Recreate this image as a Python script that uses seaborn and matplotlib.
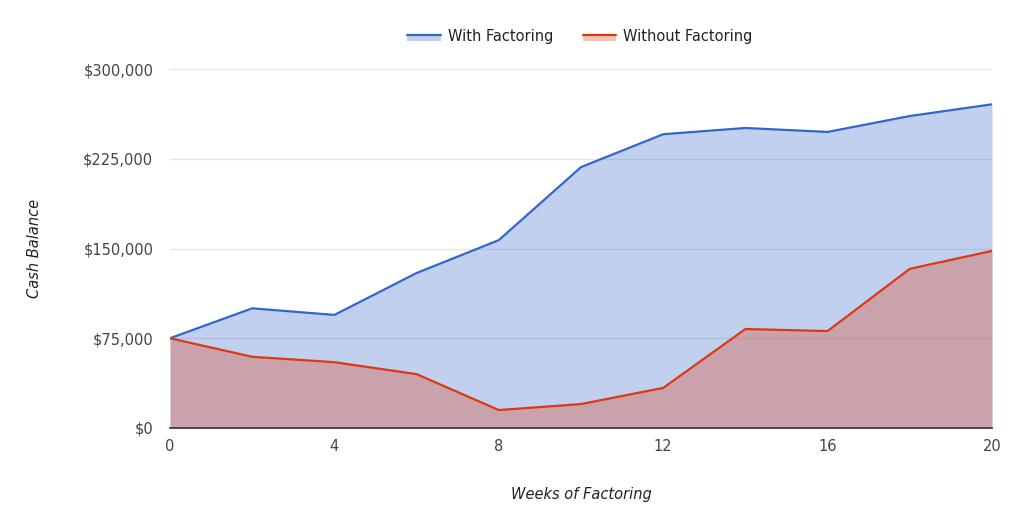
import matplotlib
matplotlib.use("Agg")
import matplotlib.pyplot as plt
import matplotlib.ticker as mticker
from matplotlib.patches import Rectangle
from matplotlib.lines import Line2D
from matplotlib.legend_handler import HandlerBase
import seaborn as sns
import pandas as pd

weeks = [0, 2, 4, 6, 8, 10, 12, 14, 16, 18, 20]
with_factoring = [75000, 100000, 94500, 129500, 157000, 218000, 245500, 250700, 247400, 260700, 270500]
without_factoring = [75000, 59500, 55000, 45000, 15000, 20000, 33500, 82700, 81000, 133000, 148000]
y_ticks = [0, 75000, 150000, 225000, 300000]
x_ticks = [0, 4, 8, 12, 16, 20]

df = pd.DataFrame({"week": weeks, "With Factoring": with_factoring,
                   "Without Factoring": without_factoring})
long = df.melt(id_vars="week", var_name="series", value_name="cash")

sns.set_theme(style="white")
plt.rcParams['font.family'] = ['DejaVu Sans']

blue = "#3366CC"
red = "#DC3912"
text_c = "#444444"


class AreaHandler(HandlerBase):
    # line on top, light band under it (like the google chart legend)
    def create_artists(self, legend, orig_handle, xdescent, ydescent, width, height, fontsize, trans):
        c = orig_handle.get_color()
        mid = height * 0.55
        rect = Rectangle((-xdescent, -ydescent), width, mid, facecolor=c, alpha=0.3, lw=0, transform=trans)
        line = Line2D([-xdescent, -xdescent + width], [mid, mid], color=c, lw=1.6, transform=trans)
        return [rect, line]


fig = plt.figure(figsize=(10.31, 5.22), dpi=100)
ax = fig.add_axes([170 / 1031, 1 - 428 / 522, 822 / 1031, 359 / 522])

ax.fill_between(df["week"], df["With Factoring"], color=blue, alpha=0.3, lw=0, zorder=2)
ax.fill_between(df["week"], df["Without Factoring"], color=red, alpha=0.3, lw=0, zorder=2)

sns.lineplot(data=long, x="week", y="cash", hue="series",
             palette={"With Factoring": blue, "Without Factoring": red},
             linewidth=1.6, ax=ax, legend=False, zorder=3)

ax.set_xlim(0, 20)
ax.set_ylim(0, 300000)
ax.set_xticks(x_ticks)
ax.set_yticks(y_ticks)
ax.yaxis.set_major_formatter(mticker.FuncFormatter(lambda v, p: f"${v:,.0f}"))
ax.grid(axis="y", color="#e6e6e6", lw=1, zorder=0)
ax.grid(axis="x", visible=False)
for s in ["top", "right", "left"]:
    ax.spines[s].set_visible(False)
ax.spines["bottom"].set_color("#333333")
ax.spines["bottom"].set_linewidth(1.2)
ax.spines["bottom"].set_zorder(4)
ax.tick_params(axis="both", length=0, labelsize=10.5, colors=text_c)
ax.tick_params(axis="y", pad=12)
ax.tick_params(axis="x", pad=8)

ax.set_xlabel("Weeks of Factoring", fontsize=10.5, style="italic", color="#222222", labelpad=24)
ax.set_ylabel("Cash Balance", fontsize=10.5, style="italic", color="#222222", labelpad=30)

labels = ["With Factoring", "Without Factoring"]
handles = [Line2D([], [], color=blue), Line2D([], [], color=red)]
leg = fig.legend(handles, labels, handler_map={Line2D: AreaHandler()},
                 loc="center", bbox_to_anchor=(580 / 1031, 1 - 36 / 522), ncol=2,
                 frameon=False, fontsize=10.5, handlelength=2.3, columnspacing=2.0,
                 handletextpad=0.5)
for t in leg.get_texts():
    t.set_color("#222222")

fig.savefig("out.png", dpi=100)
